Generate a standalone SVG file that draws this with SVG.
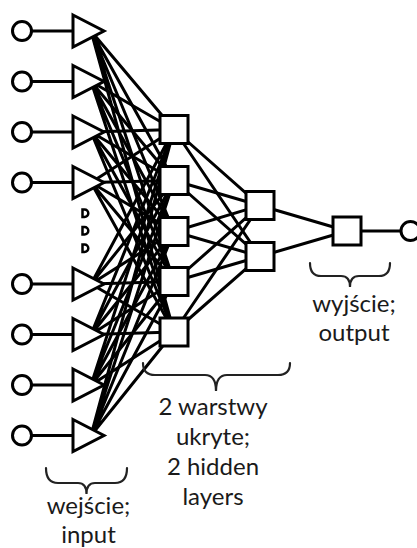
<svg xmlns="http://www.w3.org/2000/svg" width="417" height="548" viewBox="0 0 417 548">
<style>
.c{stroke:#000;stroke-width:3;fill:none}
.n{stroke:#000;stroke-width:3;fill:#fff;stroke-linejoin:miter}
.b{stroke:#222;stroke-width:2.2;fill:none;stroke-linecap:round}
.t{font-family:Lato,"Open Sans","Liberation Sans",sans-serif;font-size:24px;fill:#1a1a1a;text-anchor:middle}
.d{stroke:#000;stroke-width:2.5;fill:#fff}
</style>
<rect width="417" height="548" fill="#fff"/>
<g id="connectors">
<line class="c" x1="32" y1="31" x2="73" y2="31"/>
<line class="c" x1="32" y1="81.5" x2="73" y2="81.5"/>
<line class="c" x1="32" y1="132" x2="73" y2="132"/>
<line class="c" x1="32" y1="182.5" x2="73" y2="182.5"/>
<line class="c" x1="32" y1="284" x2="73" y2="284"/>
<line class="c" x1="32" y1="334.5" x2="73" y2="334.5"/>
<line class="c" x1="32" y1="385" x2="73" y2="385"/>
<line class="c" x1="32" y1="435.5" x2="73" y2="435.5"/>
<path class="c" d="M91,31L174,129.5M91,31L174,180.5M91,31L174,231.5M91,31L174,281.5M91,31L174,332"/>
<path class="c" d="M91,81.5L174,129.5M91,81.5L174,180.5M91,81.5L174,231.5M91,81.5L174,281.5M91,81.5L174,332"/>
<path class="c" d="M91,132L174,129.5M91,132L174,180.5M91,132L174,231.5M91,132L174,281.5M91,132L174,332"/>
<path class="c" d="M91,182.5L174,129.5M91,182.5L174,180.5M91,182.5L174,231.5M91,182.5L174,281.5M91,182.5L174,332"/>
<path class="c" d="M91,284L174,129.5M91,284L174,180.5M91,284L174,231.5M91,284L174,281.5M91,284L174,332"/>
<path class="c" d="M91,334.5L174,129.5M91,334.5L174,180.5M91,334.5L174,231.5M91,334.5L174,281.5M91,334.5L174,332"/>
<path class="c" d="M91,385L174,129.5M91,385L174,180.5M91,385L174,231.5M91,385L174,281.5M91,385L174,332"/>
<path class="c" d="M91,435.5L174,129.5M91,435.5L174,180.5M91,435.5L174,231.5M91,435.5L174,281.5M91,435.5L174,332"/>
<path class="c" d="M174,129.5L260,205.5M174,180.5L260,205.5M174,231.5L260,205.5M174,281.5L260,205.5M174,332L260,205.5"/>
<path class="c" d="M174,129.5L260,256.5M174,180.5L260,256.5M174,231.5L260,256.5M174,281.5L260,256.5M174,332L260,256.5"/>
<path class="c" d="M260,205.5L347,231M260,256.5L347,231"/>
<line class="c" x1="361" y1="231" x2="401" y2="231"/>
</g>
<g id="in1"><circle class="n" cx="22" cy="31" r="9.5"/><polygon class="n" points="73,15 104,31 73,47"/></g>
<g id="in2"><circle class="n" cx="22" cy="81.5" r="9.5"/><polygon class="n" points="73,65.5 104,81.5 73,97.5"/></g>
<g id="in3"><circle class="n" cx="22" cy="132" r="9.5"/><polygon class="n" points="73,116 104,132 73,148"/></g>
<g id="in4"><circle class="n" cx="22" cy="182.5" r="9.5"/><polygon class="n" points="73,166.5 104,182.5 73,198.5"/></g>
<g id="in5"><circle class="n" cx="22" cy="284" r="9.5"/><polygon class="n" points="73,268 104,284 73,300"/></g>
<g id="in6"><circle class="n" cx="22" cy="334.5" r="9.5"/><polygon class="n" points="73,318.5 104,334.5 73,350.5"/></g>
<g id="in7"><circle class="n" cx="22" cy="385" r="9.5"/><polygon class="n" points="73,369 104,385 73,401"/></g>
<g id="in8"><circle class="n" cx="22" cy="435.5" r="9.5"/><polygon class="n" points="73,419.5 104,435.5 73,451.5"/></g>
<g id="dots">
<path class="d" d="M82.5,209.5h2a3.8,3.8 0 0 1 0,7.6h-2z"/>
<path class="d" d="M82.5,227h2a3.8,3.8 0 0 1 0,7.6h-2z"/>
<path class="d" d="M82.5,244.5h2a3.8,3.8 0 0 1 0,7.6h-2z"/>
</g>
<g id="h1a"><rect class="n" x="160" y="115.5" width="28" height="28"/></g>
<g id="h1b"><rect class="n" x="160" y="166.5" width="28" height="28"/></g>
<g id="h1c"><rect class="n" x="160" y="217.5" width="28" height="28"/></g>
<g id="h1d"><rect class="n" x="160" y="267.5" width="28" height="28"/></g>
<g id="h1e"><rect class="n" x="160" y="318" width="28" height="28"/></g>
<g id="h2a"><rect class="n" x="246" y="191.5" width="28" height="28"/></g>
<g id="h2b"><rect class="n" x="246" y="242.5" width="28" height="28"/></g>
<g id="out"><rect class="n" x="333" y="217" width="28" height="28"/></g>
<g id="outc"><circle class="n" cx="410.5" cy="231" r="9.5"/></g>
<g id="brace-input">
<path class="b" d="M46,468Q46,483 58,483L78,483Q86.5,483 86.5,494Q86.5,483 95,483L115,483Q127,483 127,468"/>
<text class="t" x="88.5" y="513.5">wejście;</text>
<text class="t" x="88.5" y="542.5">input</text>
</g>
<g id="brace-hidden">
<path class="b" d="M143,363Q143,375 155,375L205,375Q216,375 216,391Q216,375 227,375L278,375Q290,375 290,363"/>
<text class="t" x="213" y="415">2 warstwy</text>
<text class="t" x="213" y="445">ukryte;</text>
<text class="t" x="213" y="475">2 hidden</text>
<text class="t" x="213" y="505">layers</text>
</g>
<g id="brace-output">
<path class="b" d="M310,263Q310,276 321,276L341,276Q350,276 350,287Q350,276 359,276L379,276Q390,276 390,263"/>
<text class="t" x="354" y="312">wyjście;</text>
<text class="t" x="354" y="341">output</text>
</g>
</svg>
